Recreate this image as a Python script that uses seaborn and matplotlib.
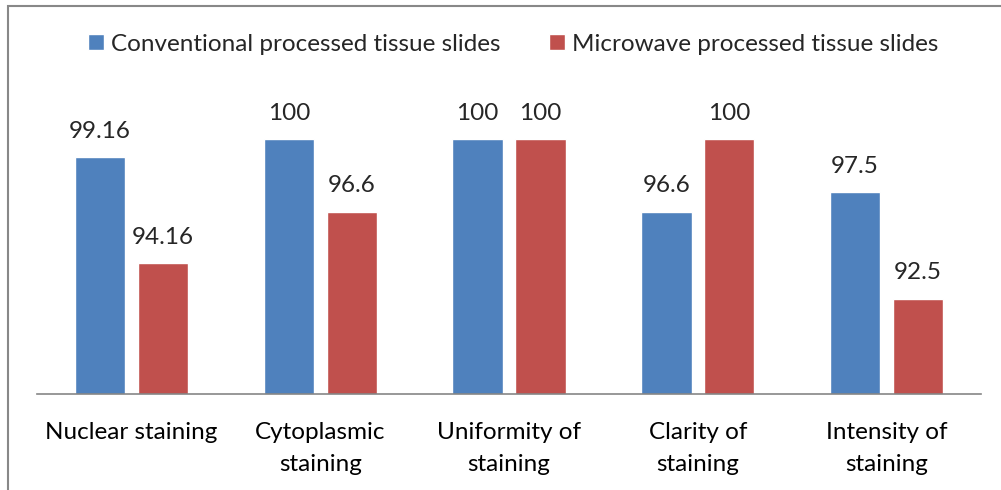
import pandas as pd
import matplotlib.pyplot as plt
import matplotlib.patches as mpatches
import seaborn as sns

# data
categories = ["Nuclear staining", "Cytoplasmic\nstaining", "Uniformity of\nstaining",
              "Clarity of\nstaining", "Intensity of\nstaining"]
series = ["Conventional processed tissue slides", "Microwave processed tissue slides"]
conventional = [99.16, 100, 100, 96.6, 97.5]
microwave = [94.16, 96.6, 100, 100, 92.5]
value_labels = {
    series[0]: ["99.16", "100", "100", "96.6", "97.5"],
    series[1]: ["94.16", "96.6", "100", "100", "92.5"],
}
colors = ["#4F81BD", "#C0504D"]

df = pd.DataFrame({
    "category": categories * 2,
    "series": [series[0]] * 5 + [series[1]] * 5,
    "value": conventional + microwave,
})

sns.set_theme(style="white")
plt.rcParams["font.family"] = ["Lato", "DejaVu Sans"]
FS = 17.5

fig = plt.figure(figsize=(10.01, 4.9), dpi=100)
ax = fig.add_axes([0.037, 0.196, 0.943, 0.606])

sns.barplot(data=df, x="category", y="value", hue="series", palette=colors,
            width=0.667, gap=0.2, ax=ax, legend=True, saturation=1)

ax.set_ylim(88, 102)
ax.set_xlim(-0.5, 4.5)
ax.set_ylabel("")
ax.set_xlabel("")
ax.set_yticks([])
for side in ["top", "right", "left"]:
    ax.spines[side].set_visible(False)
ax.spines["bottom"].set_color("#868686")
ax.spines["bottom"].set_linewidth(1.2)
ax.tick_params(axis="x", length=0, pad=20, labelsize=FS, colors="black")
for lbl in ax.get_xticklabels():
    lbl.set_linespacing(1.65)

for cont, name in zip(ax.containers, series):
    ax.bar_label(cont, labels=value_labels[name], padding=11, fontsize=FS)

handles, labels = ax.get_legend_handles_labels()
ax.legend(handles, labels, loc="center", bbox_to_anchor=(0.513, 0.91),
          bbox_transform=fig.transFigure, ncol=2, frameon=False, fontsize=FS,
          handlelength=0.65, handleheight=0.65, handletextpad=0.3, columnspacing=2.0)

# chart outer frame (cropped at right/bottom)
fig.patches.append(mpatches.Rectangle((8 / 1001, -0.1), 1.2, 1 - 6 / 490 + 0.1,
                                      transform=fig.transFigure, fill=False,
                                      edgecolor="#888888", linewidth=1.5))

fig.savefig("out.png", dpi=100)
